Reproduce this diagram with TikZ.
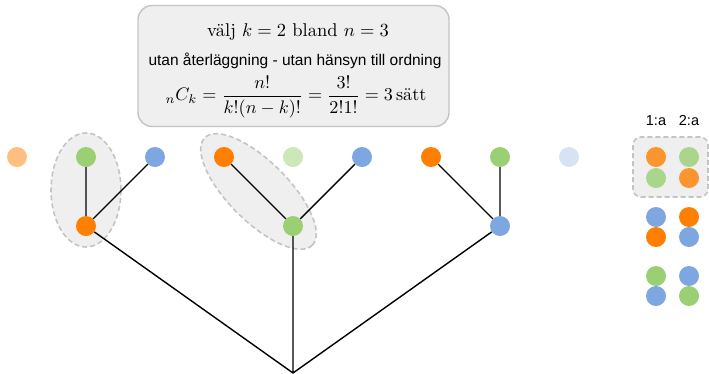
\documentclass[tikz,border=0pt]{standalone}
\usepackage{amsmath}
\usepackage{fontspec}
\setsansfont{Liberation Sans}
\definecolor{ora}{HTML}{FF7F00}
\definecolor{oraL}{HTML}{FFBF80}
\definecolor{grn}{HTML}{9ACF74}
\definecolor{grnL}{HTML}{CCE7BA}
\definecolor{blu}{HTML}{7EA6E0}
\definecolor{bluL}{HTML}{D7E3F5}
\definecolor{boxfill}{HTML}{EFEFEF}
\definecolor{boxline}{HTML}{C4C4C4}
\begin{document}
\begin{tikzpicture}[
  x=1pt,y=-1pt,
  line/.style={line width=1.4pt},
  ball/.style={circle,inner sep=0pt,minimum size=20pt},
  group/.style={fill=boxfill,draw=boxline,dash pattern=on 5pt off 3pt,line width=1.6pt},
  infobox/.style={fill=boxfill,draw=boxline,line width=1.4pt,rounded corners=14pt,
    minimum width=311pt,minimum height=121pt},
  lbl/.style={font=\fontsize{14.5}{17}\sffamily},
  big/.style={font=\fontsize{10}{12}\selectfont,scale=1.85,transform shape}]
  \useasboundingbox (0,0) rectangle (709,373);
  \node[infobox] (info) at (293.5,66) {};
  \node[big,anchor=base] (title) at (298,36) {välj $k=2$ bland $n=3$};
  \node[font=\fontsize{15.5}{18}\sffamily,anchor=base] (rule) at (295,65)
    {utan återläggning - utan hänsyn till ordning};
  \node[big,scale=.98] (formula) at (296,97)
    {${}_nC_k=\dfrac{n!}{k!(n-k)!}=\dfrac{3!}{2!1!}=3\,\text{sätt}$};
  \draw[group] (86,190) ellipse [x radius=35pt,y radius=57pt];
  \draw[group,rotate around={-45:(258.5,191.5)}] (258.5,191.5) ellipse [x radius=76pt,y radius=30pt];
  \draw[group,rounded corners=8pt] (633,137) rectangle (708,197);
  \coordinate (root) at (293,373);
  \node[ball,fill=oraL] (T1) at (17,157) {};
  \node[ball,fill=grn] (T2) at (86,157) {};
  \node[ball,fill=blu] (T3) at (155,157) {};
  \node[ball,fill=ora] (T4) at (224,157) {};
  \node[ball,fill=grnL] (T5) at (293,157) {};
  \node[ball,fill=blu] (T6) at (362,157) {};
  \node[ball,fill=ora] (T7) at (431,157) {};
  \node[ball,fill=grn] (T8) at (500,157) {};
  \node[ball,fill=bluL] (T9) at (569,157) {};
  \node[ball,fill=ora] (M1) at (86,226) {};
  \node[ball,fill=grn] (M2) at (293,226) {};
  \node[ball,fill=blu] (M3) at (500,226) {};
  \draw[line] (M1)--(T2) (M1)--(T3);
  \draw[line] (M2)--(T4) (M2)--(T6);
  \draw[line] (M3)--(T7) (M3)--(T8);
  \draw[line] (root)--(M1) (root)--(M2) (root)--(M3);
  \node[lbl] (first) at (656,121) {1:a};
  \node[lbl] (second) at (689,121) {2:a};
  \node[ball,fill=ora,opacity=.8] (A1) at (656,157) {};
  \node[ball,fill=grn,opacity=.8] (A2) at (656,178) {};
  \node[ball,fill=grn,opacity=.8] (B1) at (689,157) {};
  \node[ball,fill=ora,opacity=.8] (B2) at (689,178) {};
  \node[ball,fill=blu] (A3) at (656,217) {};
  \node[ball,fill=ora] (A4) at (656,237) {};
  \node[ball,fill=ora] (B3) at (689,217) {};
  \node[ball,fill=blu] (B4) at (689,237) {};
  \node[ball,fill=grn] (A5) at (656,276) {};
  \node[ball,fill=blu] (A6) at (656,296) {};
  \node[ball,fill=blu] (B5) at (689,276) {};
  \node[ball,fill=grn] (B6) at (689,296) {};
\end{tikzpicture}
\end{document}
